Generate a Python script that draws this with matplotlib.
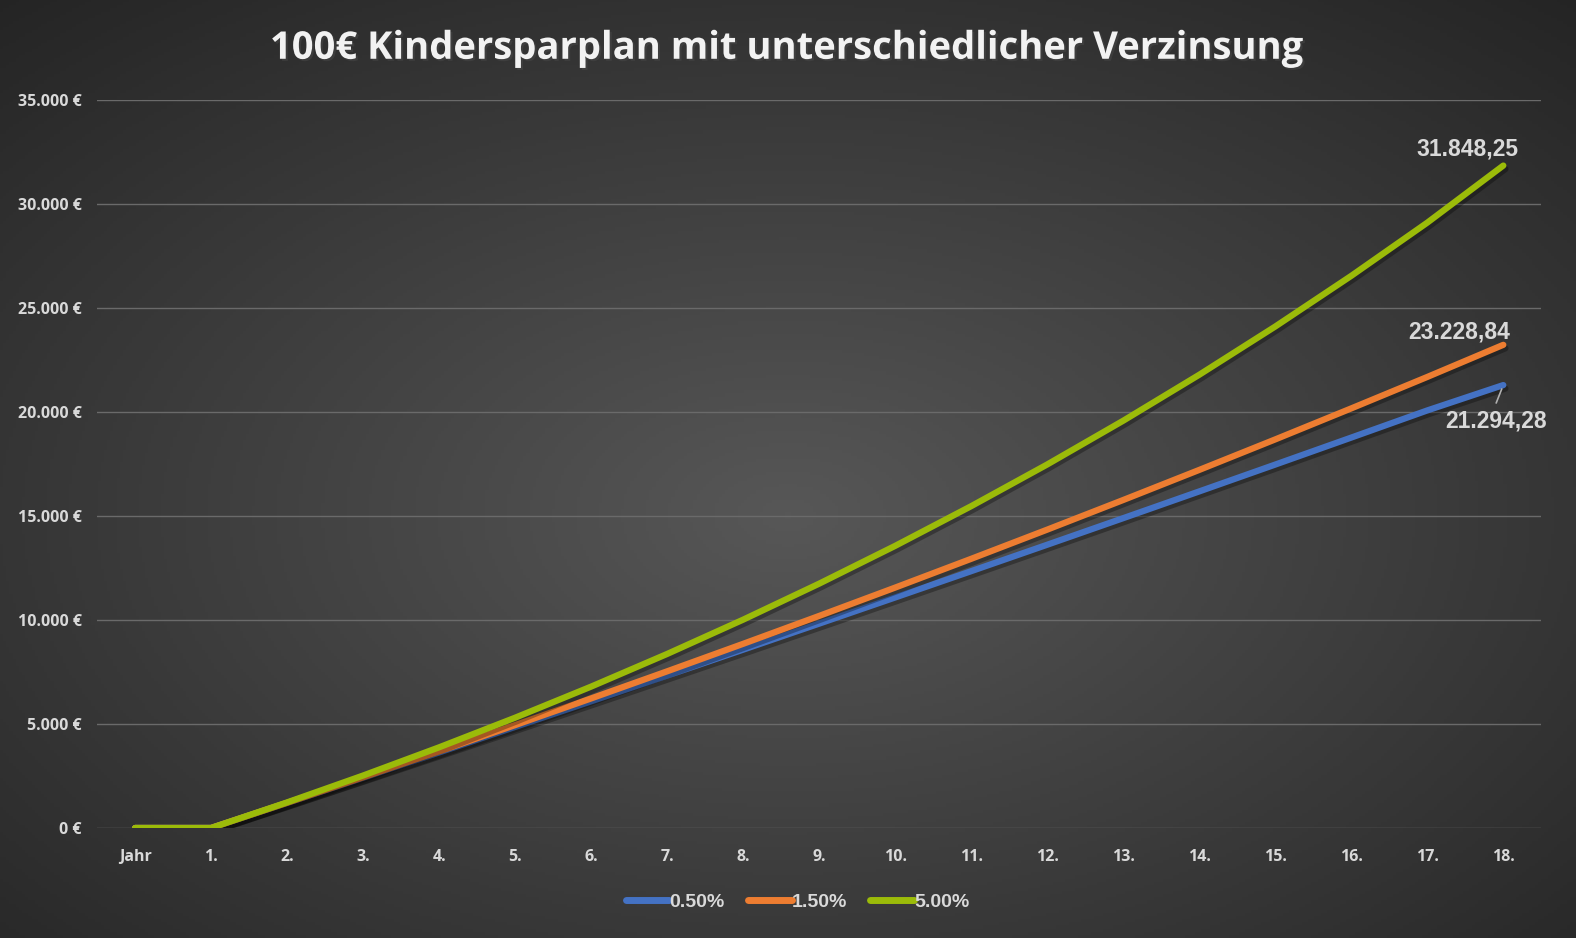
import numpy as np
import matplotlib
matplotlib.use("Agg")
import matplotlib.pyplot as plt
import matplotlib.patheffects as pe
from matplotlib.colors import LinearSegmentedColormap

# Jahr, 1. .. 18.
categories = ["Jahr"] + ["%d." % i for i in range(1, 19)]
rate_labels = ["0.50%", "1.50%", "5.00%"]
rate_colors = ["#4472c4", "#ed7d31", "#9bbb09"]

werte_05 = [0, 0, 1203, 2415, 3633, 4858, 6090, 7328, 8573, 9824, 11082,
            12347, 13618, 14896, 16181, 17472, 18770, 20075, 21294.28]
werte_15 = [0, 0, 1209, 2436, 3682, 4946, 6229, 7532, 8854, 10196, 11558,
            12941, 14344, 15769, 17215, 18682, 20173, 21685, 23228.84]
werte_50 = [0, 0, 1230, 2522, 3878, 5302, 6797, 8367, 10016, 11747, 13564,
            15473, 17477, 19581, 21790, 24110, 26546, 29103, 31848.25]
end_labels = ["21.294,28", "23.228,84", "31.848,25"]
y_ticks = [0, 5000, 10000, 15000, 20000, 25000, 30000, 35000]

serien = [werte_05, werte_15, werte_50]
txt_col = "#d9d9d9"

fig = plt.figure(figsize=(15.76, 9.38), dpi=100)

# radial gradient background
bg = fig.add_axes([0, 0, 1, 1], zorder=-10)
yy, xx = np.mgrid[0:1:300j, 0:1:500j]
r = np.sqrt(((xx - 0.5) / 0.75) ** 2 + ((yy - 0.55) / 0.75) ** 2)
bg.imshow(np.clip(r, 0, 1), cmap=LinearSegmentedColormap.from_list("bg", ["#575757", "#242424"]),
          extent=[0, 1, 0, 1], aspect="auto", vmin=0, vmax=1)
bg.axis("off")

ax = fig.add_axes([0.0616, 0.1173, 0.9164, 0.7761])
ax.patch.set_alpha(0)
x = np.arange(len(categories))
shadow = [pe.SimpleLineShadow(offset=(1.5, -2.5), shadow_color="black", alpha=0.3), pe.Normal()]
for vals, lab, col in zip(serien, rate_labels, rate_colors):
    ax.plot(x, vals, color=col, lw=4.5, solid_capstyle="round", label=lab,
            path_effects=shadow, zorder=3)

ax.set_xlim(-0.5, len(categories) - 0.5)
ax.set_ylim(0, 35000)
ax.set_yticks(y_ticks)
ax.set_yticklabels(["%s €" % format(v, ",").replace(",", ".") for v in y_ticks])
ax.set_xticks(x)
ax.set_xticklabels(categories)
ax.grid(axis="y", color="#6a6a6a", lw=1)
ax.set_axisbelow(True)
for s in ax.spines.values():
    s.set_visible(False)
ax.tick_params(length=0, colors=txt_col, labelsize=11.5)
ax.tick_params(axis="y", pad=11)
ax.tick_params(axis="x", pad=15)
for t in ax.get_xticklabels() + ax.get_yticklabels():
    t.set_fontweight("bold")
    t.set_fontfamily("Open Sans")

# data labels at last point
last = x[-1]
lab_kw = dict(textcoords="offset points", va="center", color=txt_col, fontsize=16.5,
              fontweight="bold", fontfamily="Liberation Sans")
ax.annotate(end_labels[2], (last, werte_50[-1]), xytext=(11, 12), ha="right", **lab_kw)
ax.annotate(end_labels[1], (last, werte_15[-1]), xytext=(5, 9), ha="right", **lab_kw)
ax.annotate(end_labels[0], (last, werte_05[-1]), xytext=(31, -26), ha="right",
            arrowprops=dict(arrowstyle="-", color="#b0b0b0", lw=1.2, shrinkA=3, shrinkB=3,
                            relpos=(0.48, 1.0)),
            zorder=5, **lab_kw)

leg = ax.legend(loc="upper center", bbox_to_anchor=(0.485, -0.066), ncol=3, frameon=False,
                handlelength=2.25, handletextpad=0.0, columnspacing=1.2,
                prop={"family": "Liberation Sans", "weight": "bold", "size": 14})
for t in leg.get_texts():
    t.set_color(txt_col)
for h in leg.get_lines():
    h.set_linewidth(5)
    h.set_path_effects([])

fig.text(0.5, 0.948, "100€ Kindersparplan mit unterschiedlicher Verzinsung", ha="center",
         va="center", color="#f2f2f2", fontsize=27.5, fontweight="bold", fontfamily="Open Sans",
         path_effects=[pe.withSimplePatchShadow(offset=(1.5, -1.5), alpha=0.5)])

fig.savefig("out.png", dpi=100)
